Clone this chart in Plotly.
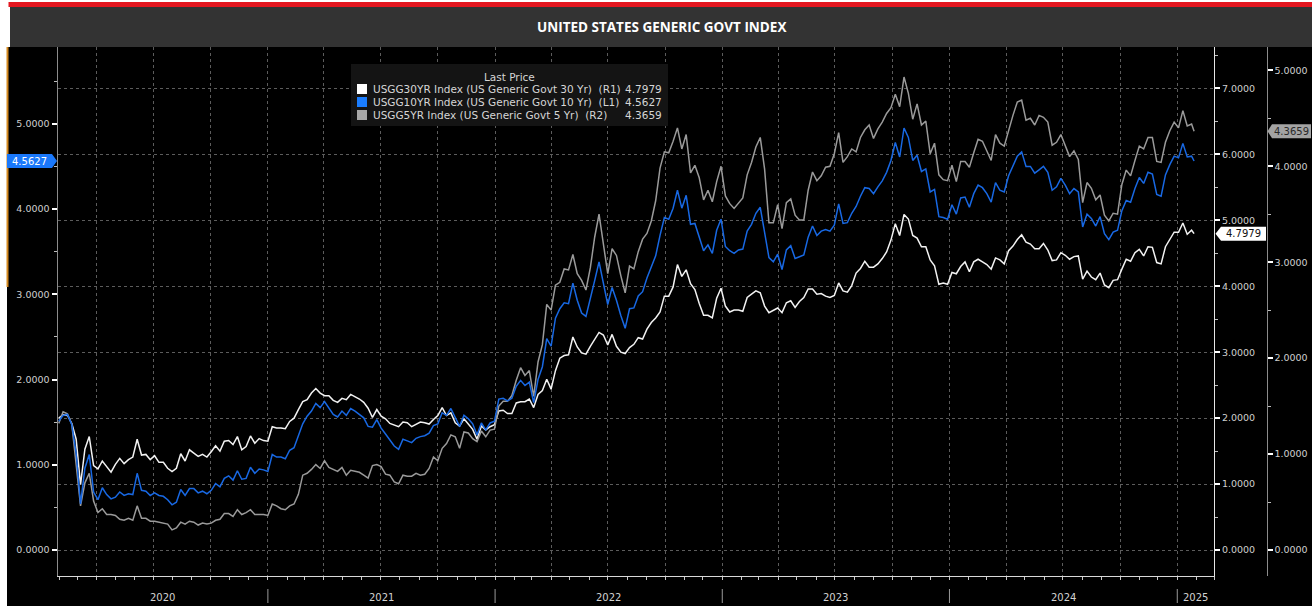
import pandas as pd
import plotly.graph_objects as go

# ---------------- data (weekly Friday closes) ----------------
DATES = list(pd.date_range("2020-01-31", "2025-01-24", freq="W-FRI").strftime("%Y-%m-%d")) + ["2025-01-28"]

Y10_2020 = [1.51, 1.58, 1.59, 1.47, 1.13, 0.54, 0.96, 1.12, 0.68, 0.59, 0.73, 0.65, 0.60,
            0.62, 0.68, 0.64, 0.66, 0.65, 0.90, 0.70, 0.69, 0.64, 0.67, 0.64, 0.63, 0.59, 0.53,
            0.56, 0.71, 0.64, 0.72, 0.72, 0.67, 0.69, 0.66, 0.70, 0.78, 0.74, 0.84, 0.87,
            0.82, 0.93, 0.83, 0.84, 0.97, 0.90, 0.95, 0.94]
Y10_2021 = [0.92, 1.12, 1.09, 1.09, 1.07, 1.17, 1.20, 1.34, 1.48, 1.57, 1.63, 1.72, 1.67,
            1.74, 1.66, 1.59, 1.56, 1.63, 1.58, 1.66, 1.63, 1.59, 1.55, 1.45, 1.44, 1.53,
            1.43, 1.36, 1.29, 1.22, 1.18, 1.30, 1.28, 1.26, 1.31, 1.33, 1.34, 1.37, 1.46,
            1.48, 1.61, 1.58, 1.66, 1.55, 1.45, 1.58, 1.54, 1.48, 1.35, 1.49, 1.41, 1.49, 1.51]
Y10_2022 = [1.77, 1.78, 1.75, 1.78, 1.92, 1.99, 1.93, 1.97, 1.73, 2.00, 2.15, 2.48,
            2.39, 2.72, 2.83, 2.90, 2.89, 3.13, 2.93, 2.78, 2.74, 2.94, 3.16, 3.38, 3.13,
            2.88, 3.08, 2.93, 2.75, 2.60, 2.83, 2.84, 2.98, 3.03, 3.19, 3.31, 3.45, 3.69, 3.90,
            3.88, 4.01, 4.22, 4.01, 4.16, 3.82, 3.83, 3.68, 3.51, 3.58, 3.48, 3.75, 3.88]
Y10_2023 = [3.56, 3.51, 3.48, 3.52, 3.53, 3.74, 3.82, 3.95, 4.02, 3.70, 3.43, 3.38, 3.47,
            3.29, 3.52, 3.57, 3.42, 3.44, 3.46, 3.67, 3.80, 3.69, 3.74, 3.76, 3.74, 3.81,
            4.06, 3.83, 3.84, 3.95, 4.03, 4.15, 4.25, 4.24, 4.18, 4.26, 4.33, 4.43, 4.57,
            4.78, 4.61, 4.95, 4.84, 4.57, 4.63, 4.44, 4.47, 4.20, 4.23, 3.91, 3.90, 3.88]
Y10_2024 = [4.05, 3.94, 4.13, 4.14, 4.02, 4.18, 4.28, 4.25, 4.18, 4.08, 4.31, 4.22, 4.20,
            4.39, 4.50, 4.62, 4.67, 4.50, 4.50, 4.42, 4.46, 4.50, 4.43, 4.22, 4.26, 4.36,
            4.28, 4.18, 4.24, 4.20, 3.79, 3.94, 3.89, 3.80, 3.91, 3.71, 3.64, 3.73, 3.75,
            3.98, 4.10, 4.08, 4.24, 4.37, 4.30, 4.43, 4.41, 4.17, 4.15, 4.40, 4.52, 4.62]
Y10_2025 = [4.60, 4.77, 4.61, 4.62, 4.5627]

Y30_2020 = [2.00, 2.05, 2.04, 1.92, 1.68, 0.99, 1.53, 1.72, 1.28, 1.23, 1.35, 1.27, 1.18,
            1.30, 1.39, 1.31, 1.37, 1.41, 1.68, 1.44, 1.45, 1.37, 1.43, 1.33, 1.33, 1.24, 1.19,
            1.24, 1.46, 1.35, 1.52, 1.47, 1.42, 1.45, 1.41, 1.49, 1.58, 1.50, 1.65, 1.66,
            1.60, 1.72, 1.52, 1.57, 1.73, 1.62, 1.69, 1.66]
Y30_2021 = [1.65, 1.87, 1.85, 1.85, 1.84, 1.95, 2.00, 2.13, 2.25, 2.28, 2.38, 2.45, 2.38,
            2.34, 2.34, 2.27, 2.24, 2.30, 2.28, 2.36, 2.33, 2.29, 2.24, 2.15, 2.01, 2.13,
            2.03, 1.99, 1.92, 1.90, 1.87, 1.94, 1.93, 1.87, 1.91, 1.94, 1.93, 1.91, 1.98,
            2.04, 2.16, 2.04, 2.08, 1.93, 1.88, 1.99, 1.91, 1.83, 1.68, 1.88, 1.82, 1.87, 1.90]
Y30_2022 = [2.11, 2.12, 2.07, 2.07, 2.23, 2.25, 2.25, 2.29, 2.16, 2.36, 2.42, 2.59,
            2.44, 2.72, 2.91, 2.95, 2.96, 3.23, 3.08, 2.99, 2.97, 3.09, 3.20, 3.30, 3.26,
            3.11, 3.27, 3.09, 3.00, 2.98, 3.07, 3.12, 3.22, 3.20, 3.35, 3.45, 3.52, 3.61, 3.85,
            3.85, 3.99, 4.33, 4.15, 4.25, 4.04, 3.95, 3.74, 3.56, 3.56, 3.52, 3.82, 3.97]
Y30_2023 = [3.70, 3.61, 3.64, 3.64, 3.62, 3.83, 3.88, 3.93, 3.90, 3.70, 3.60, 3.64, 3.67,
            3.60, 3.75, 3.78, 3.68, 3.77, 3.83, 3.96, 3.96, 3.88, 3.89, 3.85, 3.83, 3.86,
            4.05, 3.93, 3.91, 4.01, 4.20, 4.27, 4.38, 4.29, 4.29, 4.34, 4.42, 4.52, 4.70,
            4.95, 4.77, 5.09, 5.02, 4.77, 4.73, 4.60, 4.60, 4.40, 4.31, 4.03, 4.05, 4.03]
Y30_2024 = [4.21, 4.19, 4.30, 4.37, 4.22, 4.37, 4.41, 4.37, 4.33, 4.26, 4.43, 4.40, 4.34,
            4.54, 4.61, 4.71, 4.78, 4.67, 4.64, 4.57, 4.57, 4.65, 4.55, 4.39, 4.40, 4.51,
            4.47, 4.41, 4.45, 4.46, 4.11, 4.23, 4.14, 4.10, 4.20, 4.02, 3.98, 4.09, 4.10,
            4.26, 4.41, 4.38, 4.51, 4.56, 4.46, 4.60, 4.59, 4.36, 4.34, 4.60, 4.72, 4.82]
Y30_2025 = [4.82, 4.96, 4.79, 4.85, 4.7979]

Y5_2020 = [1.32, 1.44, 1.42, 1.31, 0.89, 0.46, 0.70, 0.80, 0.51, 0.39, 0.43, 0.37, 0.37,
           0.36, 0.32, 0.31, 0.33, 0.31, 0.46, 0.33, 0.33, 0.30, 0.30, 0.29, 0.28, 0.27, 0.21,
           0.23, 0.29, 0.27, 0.30, 0.29, 0.26, 0.28, 0.27, 0.28, 0.31, 0.32, 0.38, 0.38,
           0.35, 0.42, 0.37, 0.39, 0.42, 0.37, 0.37, 0.37]
Y5_2021 = [0.36, 0.48, 0.46, 0.43, 0.42, 0.46, 0.48, 0.58, 0.78, 0.80, 0.84, 0.89, 0.85,
           0.93, 0.86, 0.84, 0.82, 0.86, 0.78, 0.83, 0.82, 0.81, 0.78, 0.75, 0.88, 0.89,
           0.87, 0.79, 0.78, 0.71, 0.69, 0.78, 0.77, 0.77, 0.80, 0.78, 0.79, 0.85, 0.97,
           0.93, 1.06, 1.11, 1.20, 1.18, 1.06, 1.23, 1.22, 1.16, 1.13, 1.24, 1.18, 1.25, 1.26]
Y5_2022 = [1.50, 1.55, 1.55, 1.61, 1.77, 1.90, 1.82, 1.87, 1.60, 1.96, 2.14, 2.56,
           2.50, 2.76, 2.79, 2.93, 2.92, 3.08, 2.88, 2.81, 2.71, 2.94, 3.26, 3.50, 3.19,
           2.88, 3.14, 3.07, 2.86, 2.68, 2.96, 2.93, 3.11, 3.24, 3.30, 3.43, 3.64, 3.98, 4.15,
           4.14, 4.26, 4.40, 4.18, 4.33, 3.93, 4.01, 3.88, 3.65, 3.75, 3.63, 3.84, 4.00]
Y5_2023 = [3.69, 3.61, 3.56, 3.62, 3.67, 3.91, 4.04, 4.20, 4.30, 3.97, 3.41, 3.41, 3.60,
           3.35, 3.62, 3.66, 3.49, 3.44, 3.44, 3.75, 3.94, 3.85, 3.90, 3.99, 4.00, 4.13,
           4.35, 4.04, 4.10, 4.18, 4.15, 4.30, 4.38, 4.43, 4.29, 4.39, 4.46, 4.55, 4.61,
           4.75, 4.62, 4.93, 4.76, 4.49, 4.65, 4.43, 4.47, 4.13, 4.24, 3.91, 3.86, 3.85]
Y5_2024 = [4.01, 3.84, 4.05, 4.05, 3.99, 4.14, 4.28, 4.26, 4.15, 4.06, 4.33, 4.24, 4.21,
           4.38, 4.53, 4.67, 4.69, 4.48, 4.50, 4.43, 4.53, 4.51, 4.46, 4.22, 4.25, 4.33,
           4.22, 4.10, 4.16, 4.07, 3.62, 3.83, 3.77, 3.65, 3.70, 3.49, 3.43, 3.51, 3.50,
           3.81, 3.96, 3.90, 4.06, 4.21, 4.18, 4.30, 4.30, 4.05, 4.04, 4.25, 4.37, 4.46]
Y5_2025 = [4.40, 4.58, 4.42, 4.44, 4.3659]

USGG10 = Y10_2020 + Y10_2021 + Y10_2022 + Y10_2023 + Y10_2024 + Y10_2025
USGG30 = Y30_2020 + Y30_2021 + Y30_2022 + Y30_2023 + Y30_2024 + Y30_2025
USGG5 = Y5_2020 + Y5_2021 + Y5_2022 + Y5_2023 + Y5_2024 + Y5_2025
assert len(USGG10) == len(USGG30) == len(USGG5) == len(DATES), (len(USGG10), len(USGG30), len(USGG5), len(DATES))

NAMES = ["USGG30YR Index (US Generic Govt 30 Yr)\u00a0\u00a0(R1)",
         "USGG10YR Index (US Generic Govt 10 Yr)\u00a0\u00a0(L1)",
         "USGG5YR Index (US Generic Govt 5 Yr)\u00a0\u00a0(R2)"]
YEARS = [2020, 2021, 2022, 2023, 2024, 2025]
TITLE = "UNITED STATES GENERIC GOVT INDEX"
X_RANGE = ["2020-01-29", "2025-03-01"]

# ---------------- geometry helpers ----------------
W, H = 1312, 609
def px(xp):
    return xp / W
def py(yp):
    return (H - yp) / H

PLOT_TOP, PLOT_BOT, ZERO_PX = 47, 576, 550
PLOT_H = PLOT_BOT - PLOT_TOP
def yrange(px_per_unit):
    below = PLOT_BOT - ZERO_PX
    return [-below / px_per_unit, (PLOT_H - below) / px_per_unit]

R_L1 = yrange(85.25)
R_R1 = yrange(65.93)
R_R2 = yrange(95.94)

C30, C10, C5 = "#f2f2f2", "#1868e3", "#9a9a9a"
TICKFONT = dict(family="DejaVu Sans", size=9.5, color="#cfcfcf")
GRID = "#5c5c5c"

fig = go.Figure()
fig.add_trace(go.Scatter(x=DATES, y=USGG30, yaxis="y", mode="lines",
                         line=dict(color=C30, width=1.5), name=NAMES[0]))
fig.add_trace(go.Scatter(x=DATES, y=USGG5, yaxis="y2", mode="lines",
                         line=dict(color=C5, width=1.5), name=NAMES[2]))
fig.add_trace(go.Scatter(x=DATES, y=USGG10, yaxis="y3", mode="lines",
                         line=dict(color=C10, width=1.5), name=NAMES[1]))

common_y = dict(tickformat=".4f", dtick=1, tick0=0, ticks="outside", ticklen=5, tickwidth=2,
                tickcolor="#ffffff", tickfont=TICKFONT, zeroline=False, automargin=False,
                showline=True, linewidth=1, fixedrange=True,
                minor=dict(dtick=0.5, tick0=0, ticks="outside", ticklen=3, tickwidth=1,
                           tickcolor="#bdbdbd", showgrid=False))

ydom = [py(PLOT_BOT), py(PLOT_TOP)]
fig.update_layout(
    width=W, height=H, autosize=False,
    margin=dict(l=0, r=0, t=0, b=0, pad=0),
    paper_bgcolor="#ffffff", plot_bgcolor="rgba(0,0,0,0)",
    showlegend=False, template="none",
    xaxis=dict(type="date", domain=[px(57.5), px(1214)], range=X_RANGE,
               showgrid=True, gridcolor=GRID, griddash="dot", gridwidth=1,
               dtick="M3", tick0="2020-01-01", showticklabels=False,
               ticks="outside", ticklen=3, tickcolor="#c8c8c8", tickwidth=1,
               showline=True, linecolor="#d8d8d8", linewidth=1, zeroline=False,
               automargin=False, fixedrange=True,
               minor=dict(dtick="M1", tick0="2020-01-01", ticks="outside", ticklen=3,
                          tickcolor="#c8c8c8", tickwidth=1, showgrid=False)),
    yaxis=dict(domain=ydom, range=R_R1, side="right", anchor="x",
               showgrid=True, gridcolor=GRID, griddash="dot", gridwidth=1,
               linecolor="#e6e6e6", **common_y),
    yaxis2=dict(range=R_R2, side="right", overlaying="y", anchor="free", position=px(1266.5),
                showgrid=False, linecolor="#8c8c8c", **common_y),
    yaxis3=dict(range=R_L1, side="left", overlaying="y", anchor="x",
                showgrid=False, linecolor="#8c8c8c", **common_y),
)

shapes = []
ann = []
# background frame
shapes.append(dict(type="rect", xref="paper", yref="paper", x0=px(7), x1=1, y0=py(606), y1=py(47),
                   fillcolor="#000000", line=dict(width=0), layer="below"))
shapes.append(dict(type="rect", xref="paper", yref="paper", x0=px(10), x1=1, y0=py(47), y1=py(7),
                   fillcolor="#333333", line=dict(width=0), layer="below"))
shapes.append(dict(type="rect", xref="paper", yref="paper", x0=px(8.5), x1=1, y0=py(7), y1=py(2),
                   fillcolor="#e3161f", line=dict(width=0), layer="below"))
shapes.append(dict(type="rect", xref="paper", yref="paper", x0=px(6.5), x1=px(8.5), y0=py(287), y1=py(47),
                   fillcolor="#d4891e", line=dict(width=0), layer="below"))
ann.append(dict(text="<b>" + TITLE + "</b>", xref="paper", yref="paper", x=px(661), y=py(27),
                xanchor="center", yanchor="middle", showarrow=False,
                font=dict(family="Open Sans", size=13.5, color="#ffffff")))

# year labels in the bottom band, centred on the visible part of each year
x0r, x1r = pd.Timestamp(X_RANGE[0]), pd.Timestamp(X_RANGE[1])
for yr in YEARS:
    a = max(x0r, pd.Timestamp(f"{yr}-01-01"))
    b = min(x1r, pd.Timestamp(f"{yr + 1}-01-01"))
    mid = a + (b - a) / 2
    ann.append(dict(text=str(yr), xref="x", yref="paper", x=mid.strftime("%Y-%m-%d %H:%M"), y=py(597),
                    xanchor="center", yanchor="middle", showarrow=False,
                    font=dict(family="DejaVu Sans", size=10, color="#d2d2d2")))
    if yr > YEARS[0]:
        d = f"{yr}-01-01"
        shapes.append(dict(type="line", xref="x", yref="paper", x0=d, x1=d, y0=py(603), y1=py(589),
                           line=dict(color="#9a9a9a", width=1)))

# legend box
shapes.append(dict(type="rect", xref="paper", yref="paper", x0=px(351), x1=px(668), y0=py(126), y1=py(64),
                   fillcolor="#141414", line=dict(width=0), layer="above"))
ann.append(dict(text="Last Price", xref="paper", yref="paper", x=px(509.5), y=py(76.5),
                xanchor="center", yanchor="middle", showarrow=False,
                font=dict(family="DejaVu Sans", size=10.5, color="#d6d6d6")))
LEG = [(NAMES[0], "#ffffff", USGG30[-1]), (NAMES[1], "#1a7dff", USGG10[-1]), (NAMES[2], "#a8a8a8", USGG5[-1])]
for i, (nm, col, last) in enumerate(LEG):
    cy = 89 + i * 13
    shapes.append(dict(type="rect", xref="paper", yref="paper", x0=px(357), x1=px(367), y0=py(cy + 5), y1=py(cy - 5),
                       fillcolor=col, line=dict(width=0), layer="above"))
    ann.append(dict(text=nm, xref="paper", yref="paper", x=px(371), y=py(cy), xanchor="left", yanchor="middle",
                    showarrow=False, font=dict(family="DejaVu Sans", size=10.5, color="#d6d6d6")))
    ann.append(dict(text=f"{last:.4f}", xref="paper", yref="paper", x=px(664), y=py(cy), xanchor="right",
                    yanchor="middle", showarrow=False, font=dict(family="DejaVu Sans", size=10.5, color="#d6d6d6")))

# last-value tags on the axes
def tag(last, yref, rng, box_x0, box_x1, tip_x, base_x, bg, fg):
    scale = PLOT_H / (rng[1] - rng[0])
    h = 7 / scale
    shapes.append(dict(type="path", xref="paper", yref=yref,
                       path=f"M {px(tip_x)},{last} L {px(base_x)},{last + h} L {px(base_x)},{last - h} Z",
                       fillcolor=bg, line=dict(width=0), layer="above"))
    shapes.append(dict(type="rect", xref="paper", yref=yref, x0=px(box_x0), x1=px(box_x1),
                       y0=last - h, y1=last + h, fillcolor=bg, line=dict(width=0), layer="above"))
    ann.append(dict(text=f"{last:.4f}", xref="paper", yref=yref, x=px((box_x0 + box_x1) / 2), y=last,
                    xanchor="center", yanchor="middle", showarrow=False,
                    font=dict(family="DejaVu Sans", size=10, color=fg)))

tag(USGG10[-1], "y3", R_L1, 7, 52, 57, 52, "#1a78fb", "#ffffff")
tag(USGG30[-1], "y", R_R1, 1221, 1266, 1215.5, 1221, "#ffffff", "#111111")
tag(USGG5[-1], "y2", R_R2, 1272, 1311, 1267.5, 1272, "#a3a3a3", "#2a2a2a")

fig.update_layout(shapes=shapes, annotations=ann)
# remove the browser's default page margin so the figure sits at the window's top-left corner
fig.write_html("out.html", config={"displayModeBar": False},
               post_script="document.body.style.margin='0';document.body.style.padding='0';")
